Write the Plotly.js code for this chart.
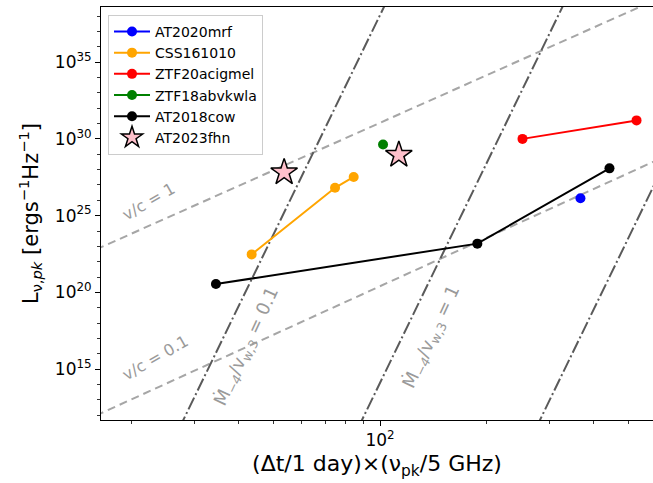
<!DOCTYPE html>
<html>
<head>
<meta charset="utf-8">
<script src="https://cdn.plot.ly/plotly-3.0.1.min.js"></script>
<style>html,body{margin:0;padding:0;background:#fff;}#chart{width:653px;height:483px;}</style>
</head>
<body>
<div id="chart"></div>
<script>
// ---- Data ----
const names = ['AT2020mrf', 'CSS161010', 'ZTF20acigmel', 'ZTF18abvkwla', 'AT2018cow', 'AT2023fhn'];
const colors = ['#0000ff', '#ffa500', '#ff0000', '#008000', '#000000', '#ffc0cb'];

const mrfX = [367];
const mrfY = [1.35e26];
const cssX = [43.5, 74.7, 84.3];
const cssY = [3.0e22, 6.5e26, 3.3e27];
const ztf20X = [252, 528];
const ztf20Y = [1.0e30, 1.6e31];
const ztf18X = [102];
const ztf18Y = [4.3e29];
const cowX = [34.5, 188, 443];
const cowY = [3.5e20, 1.5e23, 1.2e28];
const fhnX = [53.7, 113];
const fhnY = [6.6e27, 9.1e28];

// reference lines (endpoints)
const vc1X = [10, 1000];
const vc1Y = [5.4e20, 2.3e41];
const vc01X = [10, 1000];
const vc01Y = [7.5e9, 8.5e30];
const mdot01X = [20.2, 139.9];
const mdot1X = [64.4, 444.9];
const mdot10X = [204.2, 1414];
const mdotY = [1e5, 1e45];

// tick labels
const yTickVals = [1e15, 1e20, 1e25, 1e30, 1e35];
const yTickText = ['10<sup>15</sup>', '10<sup>20</sup>', '10<sup>25</sup>', '10<sup>30</sup>', '10<sup>35</sup>'];
const xTickVals = [100];
const xTickText = ['10<sup>2</sup>'];

const FONT = 'DejaVu Sans, Liberation Sans, sans-serif';
const dashLine = {color: '#a6a6a6', width: 2, dash: '8px,5px'};
const dashDot = {color: '#5a5a5a', width: 2, dash: '13px,3px,2px,3px'};

const traces = [
  {x: vc1X, y: vc1Y, mode: 'lines', line: dashLine, showlegend: false, hoverinfo: 'skip'},
  {x: vc01X, y: vc01Y, mode: 'lines', line: dashLine, showlegend: false, hoverinfo: 'skip'},
  {x: mdot01X, y: mdotY, mode: 'lines', line: dashDot, showlegend: false, hoverinfo: 'skip'},
  {x: mdot1X, y: mdotY, mode: 'lines', line: dashDot, showlegend: false, hoverinfo: 'skip'},
  {x: mdot10X, y: mdotY, mode: 'lines', line: dashDot, showlegend: false, hoverinfo: 'skip'},
  {x: mrfX, y: mrfY, name: names[0], mode: 'lines+markers', line: {color: colors[0], width: 2}, marker: {color: colors[0], size: 10}},
  {x: cssX, y: cssY, name: names[1], mode: 'lines+markers', line: {color: colors[1], width: 2}, marker: {color: colors[1], size: 10}},
  {x: ztf20X, y: ztf20Y, name: names[2], mode: 'lines+markers', line: {color: colors[2], width: 2}, marker: {color: colors[2], size: 10}},
  {x: ztf18X, y: ztf18Y, name: names[3], mode: 'lines+markers', line: {color: colors[3], width: 2}, marker: {color: colors[3], size: 10}},
  {x: cowX, y: cowY, name: names[4], mode: 'lines+markers', line: {color: colors[4], width: 2}, marker: {color: colors[4], size: 10}},
  {x: fhnX, y: fhnY, name: names[5], mode: 'markers', marker: {color: colors[5], size: 20, symbol: 'star', line: {color: '#000', width: 1.5}}}
];

const annFont = {family: FONT, size: 16, color: '#9a9a9a'};
const annFontM = {family: FONT, size: 18, color: '#9a9a9a'};
const layout = {
  width: 653, height: 483,
  margin: {l: 101, r: 0, t: 7, b: 63},
  paper_bgcolor: '#fff', plot_bgcolor: '#fff',
  font: {family: FONT, size: 17, color: '#000'},
  showlegend: true,
  legend: {
    x: 0.0127, y: 0.981, xanchor: 'left', yanchor: 'top',
    bgcolor: 'rgba(255,255,255,0.8)', bordercolor: '#cccccc', borderwidth: 1,
    itemwidth: 36,
    font: {family: FONT, size: 14, color: '#000'}
  },
  xaxis: {
    type: 'log', range: [1.2141, 2.769],
    showgrid: false, zeroline: false,
    showline: true, linecolor: '#000', linewidth: 1, mirror: true,
    ticks: 'outside', ticklen: 5, tickwidth: 1, tickcolor: '#000',
    tickmode: 'array', tickvals: xTickVals, ticktext: xTickText,
    tickfont: {family: FONT, size: 17, color: '#000'},
    minor: {ticks: 'outside', ticklen: 3, tickwidth: 0.8, tickcolor: '#000', dtick: 'D1', showgrid: false},
    title: {text: '(Δt/1 day)×(ν<sub>pk</sub>/5 GHz)', font: {family: FONT, size: 22, color: '#000'}, standoff: 6}
  },
  yaxis: {
    type: 'log', range: [11.69, 38.59],
    showgrid: false, zeroline: false,
    showline: true, linecolor: '#000', linewidth: 1, mirror: true,
    ticks: 'outside', ticklen: 5, tickwidth: 1, tickcolor: '#000',
    tickmode: 'array', tickvals: yTickVals, ticktext: yTickText,
    tickfont: {family: FONT, size: 17, color: '#000'},
    minor: {ticks: 'outside', ticklen: 3, tickwidth: 0.8, tickcolor: '#000', dtick: 1, showgrid: false},
    title: {text: 'L<sub>ν,<i>pk</i></sub> [ergs<sup>−1</sup>Hz<sup>−1</sup>]', font: {family: FONT, size: 21, color: '#000'}, standoff: 10}
  },
  annotations: [
    {x: 1.349, y: 25.91, xref: 'x', yref: 'y', text: 'v/c = 1', showarrow: false, textangle: -30, font: annFont},
    {x: 1.369, y: 15.74, xref: 'x', yref: 'y', text: 'v/c = 0.1', showarrow: false, textangle: -30, font: annFont},
    {x: 1.625, y: 16.45, xref: 'x', yref: 'y', text: 'Ṁ<sub><i>−4</i></sub>/v<sub>w,3</sub> = 0.1', showarrow: false, textangle: -65, font: annFontM},
    {x: 2.146, y: 17.11, xref: 'x', yref: 'y', text: 'Ṁ<sub><i>−4</i></sub>/v<sub>w,3</sub> = 1', showarrow: false, textangle: -65, font: annFontM}
  ]
};

Plotly.newPlot('chart', traces, layout, {displayModeBar: false, staticPlot: true});
</script>
</body>
</html>
